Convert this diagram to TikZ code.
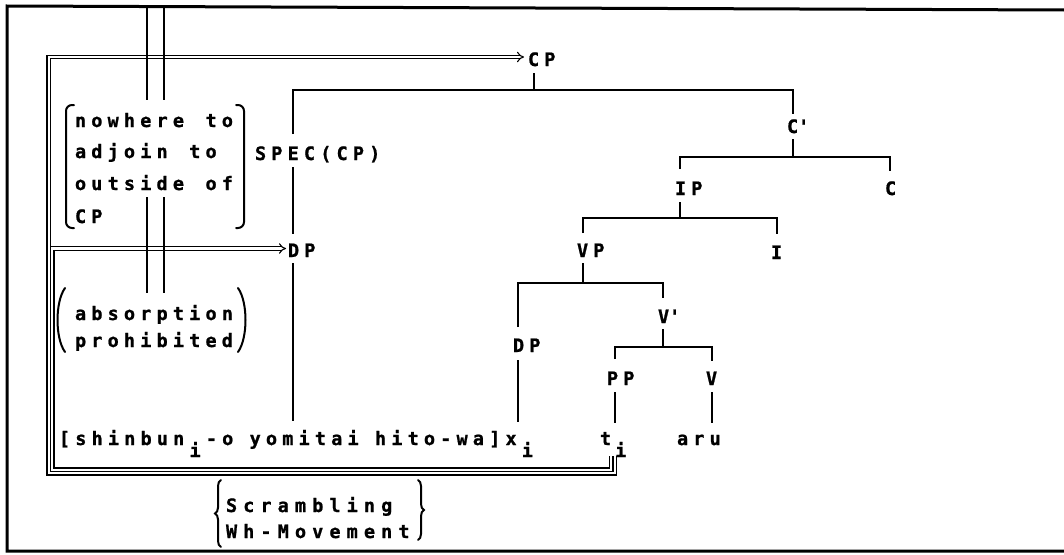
\documentclass[tikz,border=0pt]{standalone}
\usepackage{fontspec}
\usetikzlibrary{arrows.meta,decorations.pathreplacing}
% typewriter-like spaced lettering
\newfontfamily\typefam[LetterSpace=28, FakeBold=1]{DejaVu Sans Mono}
\newfontfamily\widefam[LetterSpace=33, FakeBold=1]{DejaVu Sans Mono}
% index written on the line below, full size, in its own cell
\newcommand\lowi[1][0.28em]{\kern#1\raisebox{-12pt}{i}\kern#1}
% word gap of one full letter cell
\newcommand\gap{\kern0.28em\ }

\begin{document}
\begin{tikzpicture}[x=1pt,y=-1pt,
  lbl/.style={inner sep=0pt, outer sep=0pt, anchor=base west,
    font=\typefam\bfseries\fontsize{18.5pt}{20pt}\selectfont},
  widelbl/.style={lbl, font=\widefam\bfseries\fontsize{18.5pt}{20pt}\selectfont},
  branch/.style={line width=1.6pt},
  frame/.style={line width=3pt},
  rail/.style={line width=1.4pt},
  move/.style={double=white, double distance=2.4pt, line width=1.1pt, -{Implies}},
  delim/.style={line width=2pt, line cap=round},
  ]
\useasboundingbox (0,0) rectangle (1064,554);

% outer frame (open on the right)
\draw[frame] (1064,10) -- (7,6) -- (7,551) -- (1064,551);

% ---------- tree labels ----------
\node[lbl] (cp)   at (528,66)  {CP};
\node[lbl] (spec) at (255,160) {SPEC(CP)};
\node[lbl] (cbar) at (787,133) {C\textquotesingle};
\node[lbl] (ip)   at (675,195) {IP};
\node[lbl] (c)    at (885,195) {C};
\node[lbl] (dpa)  at (288,257) {DP};
\node[lbl] (vp)   at (577,257) {VP};
\node[lbl] (infl) at (771,259) {I};
\node[lbl] (vbar) at (658,323) {V\textquotesingle};
\node[lbl] (dpb)  at (513,352) {DP};
\node[lbl] (pp)   at (607,385) {PP};
\node[lbl] (verb) at (706,385) {V};
\node[lbl] (subj) at (59,445) {[shinbun\lowi-o yomitai hito-wa]x\lowi};
\node[lbl] (trace) at (600,445) {t\lowi[0.22em]};
\node[lbl] (aru)  at (677,445) {aru};

% ---------- branch attachment points ----------
\coordinate (cpS)   at (534,73);
\coordinate (cpBar) at (534,90);
\coordinate (specN) at (293,90);
\coordinate (specT) at (293,134);
\coordinate (specB) at (293,167);
\coordinate (dpaT)  at (293,234);
\coordinate (dpaB)  at (293,263);
\coordinate (subjT) at (293,421);
\coordinate (cbarT) at (793,114);
\coordinate (cbarB) at (793,139);
\coordinate (cbarL) at (680,157);
\coordinate (cbarR) at (890,157);
\coordinate (ipT)   at (680,169);
\coordinate (cT)    at (890,171);
\coordinate (ipB)   at (680,202);
\coordinate (ipL)   at (583,218);
\coordinate (ipR)   at (777,218);
\coordinate (vpT)   at (583,233);
\coordinate (inflT) at (777,234);
\coordinate (vpB)   at (583,263);
\coordinate (vpL)   at (518,283);
\coordinate (vpR)   at (663,283);
\coordinate (dpbT)  at (518,327);
\coordinate (vbarT) at (663,298);
\coordinate (vbarB) at (663,329);
\coordinate (vbarL) at (615,347);
\coordinate (vbarR) at (712,347);
\coordinate (ppT)   at (615,359);
\coordinate (verbT) at (712,361);
\coordinate (dpbB)  at (518,360);
\coordinate (xT)    at (518,422);
\coordinate (ppB)   at (615,392);
\coordinate (traceT) at (615,423);
\coordinate (verbB) at (712,392);
\coordinate (aruT)  at (712,423);

% ---------- branches ----------
\draw[branch] (cpS) -- (cpBar);
\draw[branch] (specT) -- (specN) -- (cbarT |- specN) -- (cbarT);
\draw[branch] (specB) -- (dpaT);
\draw[branch] (dpaB) -- (subjT);
\draw[branch] (cbarB) -- (cbarB |- cbarL);
\draw[branch] (ipT) -- (cbarL) -- (cbarR) -- (cT);
\draw[branch] (ipB) -- (ipB |- ipL);
\draw[branch] (vpT) -- (ipL) -- (ipR) -- (inflT);
\draw[branch] (vpB) -- (vpB |- vpL);
\draw[branch] (dpbT) -- (vpL) -- (vpR) -- (vbarT);
\draw[branch] (vbarB) -- (vbarB |- vbarL);
\draw[branch] (ppT) -- (vbarL) -- (vbarR) -- (verbT);
\draw[branch] (dpbB) -- (xT);
\draw[branch] (ppB) -- (traceT);
\draw[branch] (verbB) -- (aruT);

% ---------- movement paths from the trace ----------
\coordinate (outA) at (614.75,456);
\coordinate (outB) at (614.75,473.25);
\coordinate (outC) at (48.75,473.25);
\coordinate (outD) at (48.75,57);
\coordinate (cpW)  at (524,57);
\coordinate (inA)  at (611.25,456);
\coordinate (inB)  at (611.25,469.75);
\coordinate (inC)  at (52.25,469.75);
\coordinate (inD)  at (52.25,248.5);
\coordinate (dpW)  at (286,248.5);
\draw[move] (outA) -- (outB) -- (outC) -- (outD) -- (cpW);
\draw[move] (inA) -- (inB) -- (inC) -- (inD) -- (dpW);

% ---------- blocked path through the conditions ----------
\draw[rail] (147,7) -- (147,100);
\draw[rail] (164,7) -- (164,100);
\draw[rail] (147,197) -- (147,293);
\draw[rail] (164,197) -- (164,293);

% ---------- conditions ----------
\node[lbl] (nw1) at (75,127) {nowhere\gap to};
\node[lbl] (nw2) at (75,158) {adjoin\gap to};
\node[lbl] (nw3) at (75,190) {outside\gap of};
\node[lbl] (nw4) at (75,223) {CP};
\draw[delim, rounded corners=6pt] (74,105) -- (66,105) -- (66,228) -- (74,228);
\draw[delim, rounded corners=6pt] (236,105) -- (244,105) -- (244,228) -- (236,228);

\node[lbl] (ab1) at (75,320) {absorption};
\node[lbl] (ab2) at (75,347) {prohibited};
\draw[delim] (65,288) .. controls (55,302) and (55,338) .. (65,352);
\draw[delim] (238,288) .. controls (248,302) and (248,338) .. (238,352);

\node[widelbl] (sc1) at (226,512) {Scrambling};
\node[widelbl] (sc2) at (226,538) {Wh-Movement};
\draw[delim, decorate, decoration={brace, amplitude=6pt}] (221,547) -- (221,480);
\draw[delim, decorate, decoration={brace, amplitude=6pt}] (418,480) -- (418,540);
\end{tikzpicture}
\end{document}
